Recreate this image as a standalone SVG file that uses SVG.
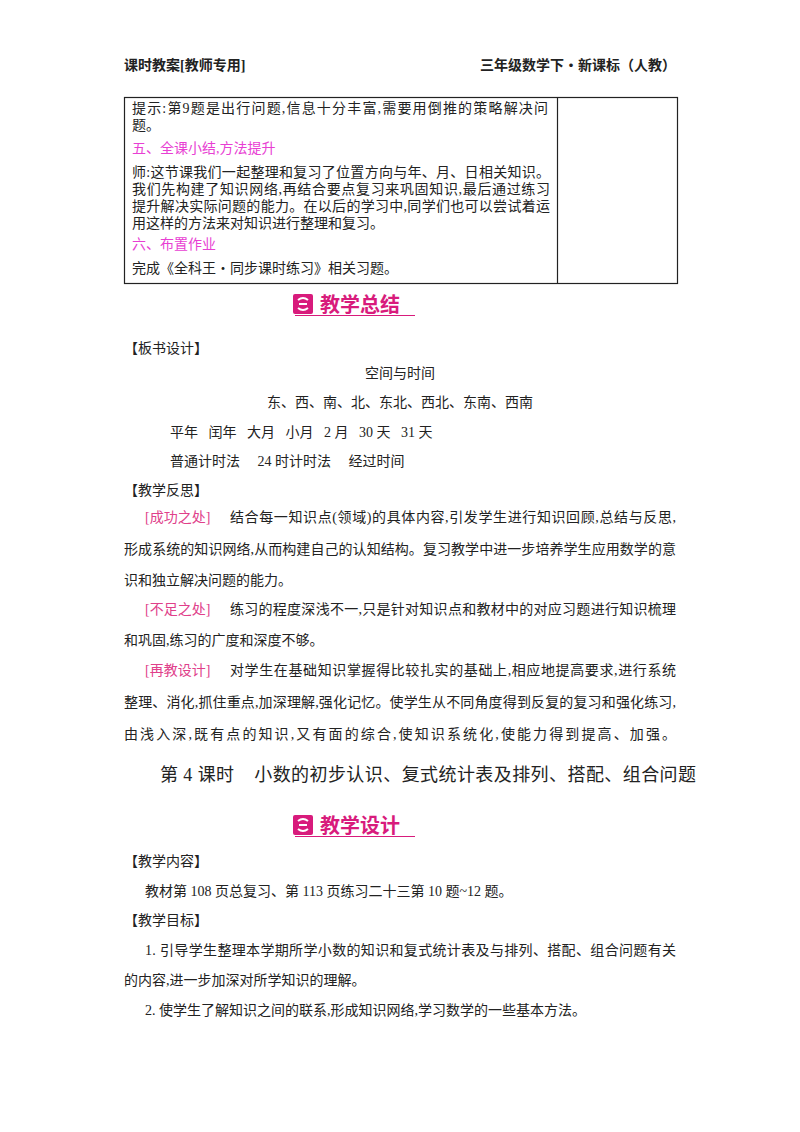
<svg xmlns="http://www.w3.org/2000/svg" width="800" height="1132" viewBox="0 0 800 1132">
<style>
text{font-family:"Liberation Serif","Noto Sans CJK SC",serif;font-size:14px;fill:#222}
.m{fill:#e83fd3}
.r{fill:#e0408a}
.b{font-weight:bold}
.h{font-family:"Liberation Sans","Noto Sans CJK SC",sans-serif;font-weight:bold;font-size:20px;fill:#d81b7c}
</style>
<defs>
<g id="badge"><rect x="0" y="0" width="20" height="20" rx="2" fill="#d81b7c"/><path d="M5 6 Q10 2 15 6 M15 14 Q10 18 5 14 M6 10 L14 10" stroke="#fff" stroke-width="2" fill="none"/></g>
</defs>
<rect width="800" height="1132" fill="#fff"/>
<g id="header">
<text x="124" y="70" class="b">课时教案[教师专用]</text>
<text x="676" y="70" text-anchor="end" class="b">三年级数学下・新课标（人教）</text>
</g>
<g id="table">
<rect x="124.5" y="97.5" width="553" height="186" fill="none" stroke="#222" stroke-width="1.2"/>
<line x1="557.5" y1="97" x2="557.5" y2="284" stroke="#222" stroke-width="1.2"/>
<text x="132" y="113" textLength="416">提示:第9题是出行问题,信息十分丰富,需要用倒推的策略解决问</text>
<text x="132" y="130">题。</text>
<text x="132" y="153" class="m">五、全课小结,方法提升</text>
<text x="132" y="177" textLength="418">师:这节课我们一起整理和复习了位置方向与年、月、日相关知识。</text>
<text x="132" y="194" textLength="418">我们先构建了知识网络,再结合要点复习来巩固知识,最后通过练习</text>
<text x="132" y="211" textLength="418">提升解决实际问题的能力。在以后的学习中,同学们也可以尝试着运</text>
<text x="132" y="228">用这样的方法来对知识进行整理和复习。</text>
<text x="132" y="249" class="m">六、布置作业</text>
<text x="132" y="273">完成《全科王・同步课时练习》相关习题。</text>
</g>
<g id="badge1">
<use href="#badge" x="293" y="294"/>
<text x="320" y="312" class="h">教学总结</text>
<line x1="295" y1="315.5" x2="415" y2="315.5" stroke="#d81b7c" stroke-width="1"/>
</g>
<g id="body1">
<text x="124" y="353">【板书设计】</text>
<text x="400" y="378" text-anchor="middle">空间与时间</text>
<text x="400" y="407" text-anchor="middle">东、西、南、北、东北、西北、东南、西南</text>
<text x="170" y="437" xml:space="preserve">平年   闰年   大月   小月   2 月   30 天   31 天</text>
<text x="170" y="466" xml:space="preserve">普通计时法     24 时计时法     经过时间</text>
<text x="124" y="495">【教学反思】</text>
<text x="145" y="522" class="r">[成功之处]</text>
<text x="230" y="522" textLength="446">结合每一知识点(领域)的具体内容,引发学生进行知识回顾,总结与反思,</text>
<text x="124" y="554" textLength="552">形成系统的知识网络,从而构建自己的认知结构。复习教学中进一步培养学生应用数学的意</text>
<text x="124" y="585">识和独立解决问题的能力。</text>
<text x="145" y="614" class="r">[不足之处]</text>
<text x="230" y="614" textLength="446">练习的程度深浅不一,只是针对知识点和教材中的对应习题进行知识梳理</text>
<text x="124" y="645">和巩固,练习的广度和深度不够。</text>
<text x="145" y="675" class="r">[再教设计]</text>
<text x="230" y="675" textLength="446">对学生在基础知识掌握得比较扎实的基础上,相应地提高要求,进行系统</text>
<text x="124" y="707" textLength="552">整理、消化,抓住重点,加深理解,强化记忆。使学生从不同角度得到反复的复习和强化练习,</text>
<text x="124" y="739" textLength="552">由浅入深,既有点的知识,又有面的综合,使知识系统化,使能力得到提高、加强。</text>
</g>
<text x="160" y="781" style="font-size:18px" textLength="536" xml:space="preserve">第 4 课时    小数的初步认识、复式统计表及排列、搭配、组合问题</text>
<g id="badge2">
<use href="#badge" x="293" y="815"/>
<text x="320" y="833" class="h">教学设计</text>
<line x1="295" y1="836.5" x2="415" y2="836.5" stroke="#d81b7c" stroke-width="1"/>
</g>
<g id="body2">
<text x="124" y="866">【教学内容】</text>
<text x="145" y="896">教材第 108 页总复习、第 113 页练习二十三第 10 题~12 题。</text>
<text x="124" y="925">【教学目标】</text>
<text x="145" y="955" textLength="531">1. 引导学生整理本学期所学小数的知识和复式统计表及与排列、搭配、组合问题有关</text>
<text x="124" y="985">的内容,进一步加深对所学知识的理解。</text>
<text x="145" y="1015">2. 使学生了解知识之间的联系,形成知识网络,学习数学的一些基本方法。</text>
</g>
</svg>
